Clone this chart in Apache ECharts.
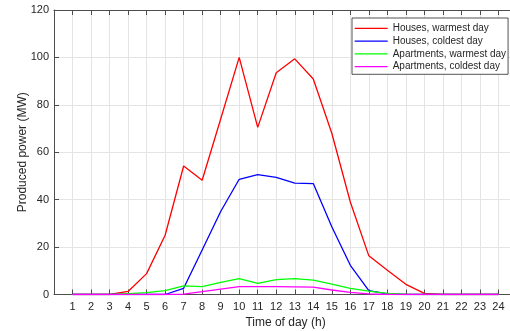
<!DOCTYPE html>
<html>
<head>
<meta charset="utf-8">
<script src="https://cdn.jsdelivr.net/npm/echarts@6/dist/echarts.min.js"></script>
<style>
  html, body { margin: 0; padding: 0; background: #fff; }
  #chart { width: 510px; height: 331px; }
</style>
</head>
<body>
<div id="chart"></div>
<script>
// Hour of day
const hours = [1, 2, 3, 4, 5, 6, 7, 8, 9, 10, 11, 12, 13, 14, 15, 16, 17, 18, 19, 20, 21, 22, 23, 24];

// Produced power (MW) per hour
const housesWarmest = [0, 0, 0, 1.3, 8.8, 25, 54.2, 48.2, 74, 100, 70.5, 93.5, 99.4, 90.9, 68, 39, 16.3, 10.2, 4.3, 0.5, 0, 0, 0, 0];
const housesColdest = [0, 0, 0, 0, 0, 0, 2.6, 18.8, 35, 48.6, 50.6, 49.4, 47, 46.8, 28.6, 12.3, 1.6, 0.3, 0, 0, 0, 0, 0, 0];
const apartmentsWarmest = [0, 0, 0, 0.4, 0.8, 1.6, 3.6, 3.3, 5.1, 6.7, 4.7, 6.3, 6.7, 6.1, 4.4, 2.6, 1.4, 0.5, 0.2, 0, 0, 0, 0, 0];
const apartmentsColdest = [0, 0, 0, 0, 0, 0, 0.2, 1.2, 2.3, 3.3, 3.3, 3.3, 3.2, 3.1, 1.9, 0.9, 0.3, 0, 0, 0, 0, 0, 0, 0];

const seriesNames = ['Houses, warmest day', 'Houses, coldest day', 'Apartments, warmest day', 'Apartments, coldest day'];
const seriesColors = ['#ff0000', '#0000ff', '#00ff00', '#ff00ff'];
const seriesValues = [housesWarmest, housesColdest, apartmentsWarmest, apartmentsColdest];

const textColor = '#262626';
const axisColor = '#4d4d4d';
const gridColor = '#e4e4e4';
const fontFamily = 'Liberation Sans, Arial, sans-serif';

// Legend key: a thin horizontal stroke centred in a 33 x 12.8 box
const legendLineIcon = 'path://M0,0 L0,0 M0,5.75 L33,5.75 L33,7.05 L0,7.05 Z M33,12.8 L33,12.8';

const chart = echarts.init(document.getElementById('chart'), null, { renderer: 'canvas' });

chart.setOption({
  animation: false,
  backgroundColor: '#ffffff',
  textStyle: { fontFamily: fontFamily },
  // The plot box runs past the right edge of the canvas (hour 25 is off-canvas)
  grid: { left: 54, top: 10, width: 463, bottom: 36.5, containLabel: false, outerBoundsMode: 'none' },
  legend: {
    orient: 'vertical',
    left: 352,
    top: 18,
    padding: [3.9, 2, 1.2, 2.7],
    icon: legendLineIcon,
    itemWidth: 33,
    itemHeight: 12.8,
    itemGap: 0,
    itemTextGap: 3.4,
    backgroundColor: '#ffffff',
    borderColor: '#262626',
    borderWidth: 0.8,
    borderRadius: 0,
    textStyle: { fontSize: 10, color: textColor, fontFamily: fontFamily },
    data: seriesNames
  },
  xAxis: [
    {
      type: 'value',
      min: 0,
      max: 25,
      interval: 1,
      name: 'Time of day (h)',
      nameLocation: 'middle',
      nameGap: 22,
      nameMoveOverlap: false,
      nameTextStyle: { fontSize: 12, color: textColor, fontFamily: fontFamily },
      axisLine: { show: true, onZero: false, lineStyle: { color: axisColor, width: 1 } },
      axisTick: { show: true, inside: true, length: 5, lineStyle: { color: axisColor } },
      axisLabel: {
        fontSize: 11,
        color: textColor,
        margin: 7,
        formatter: function (v) { return hours.indexOf(v) >= 0 ? String(v) : ''; }
      },
      splitLine: { show: true, lineStyle: { color: gridColor, width: 1 } }
    },
    {
      type: 'value',
      position: 'top',
      min: 0,
      max: 25,
      interval: 1,
      axisLine: { show: true, onZero: false, lineStyle: { color: axisColor, width: 1 } },
      axisTick: { show: true, inside: true, length: 5, lineStyle: { color: axisColor } },
      axisLabel: { show: false },
      splitLine: { show: false }
    }
  ],
  yAxis: {
    type: 'value',
    min: 0,
    max: 120,
    interval: 20,
    name: 'Produced power (MW)',
    nameLocation: 'middle',
    nameGap: 25,
    nameMoveOverlap: false,
    nameTextStyle: { fontSize: 12, color: textColor, fontFamily: fontFamily },
    axisLine: { show: true, onZero: false, lineStyle: { color: axisColor, width: 1 } },
    axisTick: { show: true, inside: true, length: 5, lineStyle: { color: axisColor } },
    axisLabel: { fontSize: 11, color: textColor, margin: 5 },
    splitLine: { show: true, lineStyle: { color: gridColor, width: 1 } }
  },
  series: seriesNames.map(function (name, i) {
    return {
      name: name,
      type: 'line',
      xAxisIndex: 0,
      symbol: 'none',
      showSymbol: false,
      color: seriesColors[i],
      itemStyle: { color: seriesColors[i] },
      lineStyle: { color: seriesColors[i], width: 1.3 },
      data: hours.map(function (h, k) { return [h, seriesValues[i][k]]; })
    };
  })
});
</script>
</body>
</html>
